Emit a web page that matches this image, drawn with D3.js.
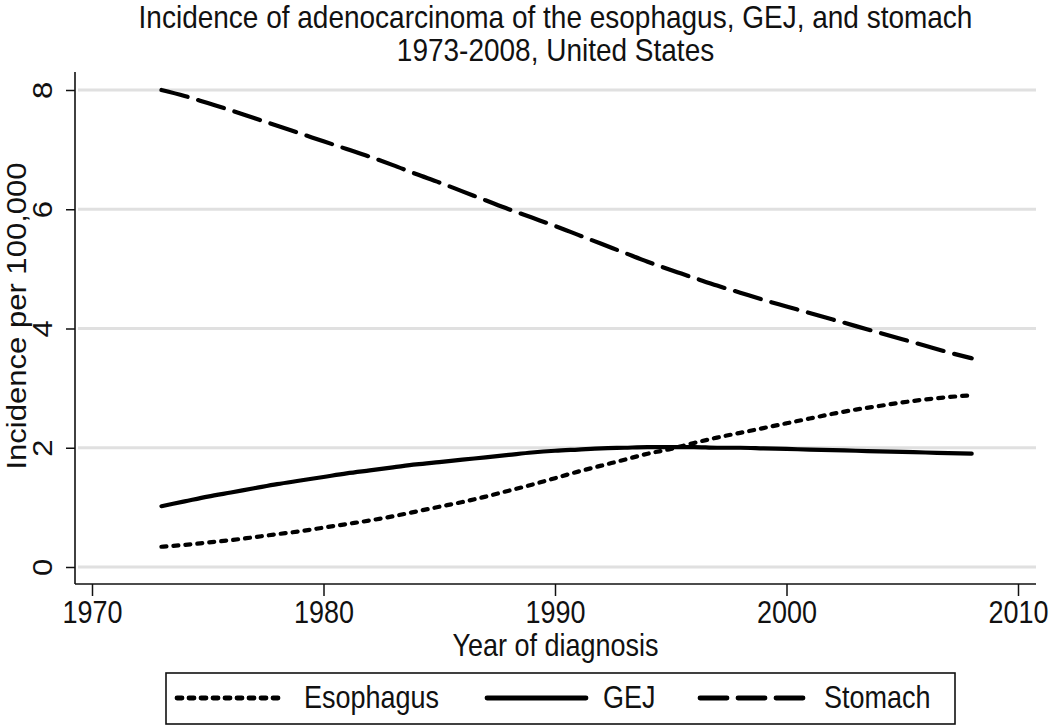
<!DOCTYPE html>
<html>
<head>
<meta charset="utf-8">
<script src="https://cdn.jsdelivr.net/npm/d3@7"></script>
<style>
  html, body { margin: 0; padding: 0; background: #fff; }
  svg { display: block; }
  text { font-family: "Liberation Sans", Arial, Helvetica, sans-serif; fill: #111; }
</style>
</head>
<body>
<svg id="chart" width="1050" height="726"></svg>
<script>
// ---- Data ----
const years = [1973,1974,1975,1976,1977,1978,1979,1980,1981,1982,1983,1984,1985,1986,1987,1988,1989,1990,
               1991,1992,1993,1994,1995,1996,1997,1998,1999,2000,2001,2002,2003,2004,2005,2006,2007,2008];
const esophagus = [0.34,0.37,0.41,0.45,0.50,0.55,0.60,0.66,0.72,0.78,0.85,0.93,1.01,1.09,1.18,1.28,1.38,1.49,
                   1.60,1.70,1.80,1.90,1.98,2.08,2.17,2.25,2.33,2.41,2.49,2.57,2.64,2.70,2.76,2.81,2.85,2.88];
const gej = [1.02,1.10,1.18,1.25,1.32,1.39,1.45,1.51,1.57,1.62,1.67,1.72,1.76,1.80,1.84,1.88,1.92,1.95,
             1.97,1.99,2.00,2.01,2.01,2.01,2.00,2.00,1.99,1.98,1.97,1.96,1.95,1.94,1.93,1.92,1.91,1.90];
const stomach = [8.00,7.90,7.78,7.66,7.53,7.40,7.27,7.14,7.01,6.88,6.74,6.59,6.45,6.30,6.15,6.00,5.86,5.72,
                 5.57,5.42,5.27,5.12,4.98,4.85,4.72,4.60,4.48,4.37,4.26,4.15,4.04,3.93,3.82,3.71,3.60,3.50];
const seriesNames = ["Esophagus", "GEJ", "Stomach"];
const xTicks = [1970, 1980, 1990, 2000, 2010];
const yTicks = [0, 2, 4, 6, 8];
const titleLines = ["Incidence of adenocarcinoma of the esophagus, GEJ, and stomach", "1973-2008, United States"];
const xTitle = "Year of diagnosis";
const yTitle = "Incidence per 100,000";

// ---- Layout ----
const svg = d3.select("#chart");
const plot = { left: 75, right: 1036, top: 72, bottom: 584 };
const SY = 1.15;          // vertical stretch of the text
const FS = 27;            // font size

const x = d3.scaleLinear().domain([1970, 2010]).range([92, 1018]);
const y = d3.scaleLinear().domain([0, 8]).range([567, 90]);

const styles = {
  Esophagus: { dash: "5 7", width: 4.2 },
  GEJ: { dash: null, width: 4.2 },
  Stomach: { dash: "27 11", width: 4.2 }
};
const seriesData = { Esophagus: esophagus, GEJ: gej, Stomach: stomach };

function addText(g, tx, ty, str, anchor, rotate, fs) {
  return g.append("text")
    .attr("transform", `translate(${tx},${ty}) scale(1,${SY})` + (rotate ? " rotate(-90)" : ""))
    .attr("text-anchor", anchor || "middle")
    .style("font-size", (fs || FS) + "px")
    .text(str);
}

// Gridlines
svg.append("g").selectAll("line").data(yTicks).join("line")
  .attr("x1", plot.left + 3).attr("x2", plot.right)
  .attr("y1", d => y(d)).attr("y2", d => y(d))
  .attr("stroke", "#e0e0e0").attr("stroke-width", 3);

// Axes
const yAxis = svg.append("g").attr("transform", `translate(${plot.left},0)`)
  .call(d3.axisLeft(y).tickValues(yTicks).tickSize(9).tickFormat(d3.format("d")));
yAxis.select(".domain").remove();
yAxis.selectAll(".tick line").attr("stroke", "#111").attr("stroke-width", 1.5);
yAxis.selectAll(".tick text")
  .attr("x", null).attr("dy", null)
  .attr("transform", `translate(-23,0) scale(1,${SY}) rotate(-90)`)
  .attr("text-anchor", "middle")
  .style("font-size", FS + "px").attr("fill", "#111");

const xAxis = svg.append("g").attr("transform", `translate(0,${plot.bottom})`)
  .call(d3.axisBottom(x).tickValues(xTicks).tickSize(12).tickFormat(d3.format("d")));
xAxis.select(".domain").remove();
xAxis.selectAll(".tick line").attr("stroke", "#111").attr("stroke-width", 1.5);
xAxis.selectAll(".tick text")
  .attr("y", null).attr("dy", null)
  .attr("transform", `translate(0,39) scale(1,${SY})`)
  .attr("text-anchor", "middle")
  .style("font-size", FS + "px").attr("fill", "#111");
svg.selectAll("g").attr("font-family", null).attr("font-size", null);

// Axis lines
svg.append("line").attr("x1", plot.left).attr("x2", plot.left)
  .attr("y1", plot.top).attr("y2", plot.bottom)
  .attr("stroke", "#111").attr("stroke-width", 1.6);
svg.append("line").attr("x1", plot.left).attr("x2", plot.right)
  .attr("y1", plot.bottom).attr("y2", plot.bottom)
  .attr("stroke", "#111").attr("stroke-width", 1.6);

// Lines
const line = d3.line().x((d, i) => x(years[i])).y(d => y(d)).curve(d3.curveMonotoneX);
seriesNames.forEach(name => {
  const st = styles[name];
  svg.append("path")
    .datum(seriesData[name])
    .attr("d", line)
    .attr("fill", "none")
    .attr("stroke", "#000")
    .attr("stroke-width", st.width)
    .attr("stroke-linecap", "round")
    .attr("stroke-linejoin", "round")
    .attr("stroke-dasharray", st.dash);
});

// Titles
const cx = (plot.left + plot.right) / 2;
addText(svg, cx, 28, titleLines[0], "middle", false, 28);
addText(svg, cx, 61, titleLines[1], "middle", false, 28);
addText(svg, cx, 656, xTitle);
addText(svg, 26, (plot.top + plot.bottom) / 2 - 12, yTitle, "middle", true);

// Legend
const legend = svg.append("g");
legend.append("rect").attr("x", 166).attr("y", 673).attr("width", 789).attr("height", 51)
  .attr("fill", "#fff").attr("stroke", "#111").attr("stroke-width", 1.6);
const legendPos = [ { s: 177, e: 284, t: 304 }, { s: 487, e: 586, t: 603 }, { s: 700, e: 805, t: 824 } ];
const legY = 698;
seriesNames.forEach((name, i) => {
  const p = legendPos[i], st = styles[name];
  legend.append("line").attr("x1", p.s).attr("x2", p.e).attr("y1", legY).attr("y2", legY)
    .attr("stroke", "#000").attr("stroke-width", st.width + 0.6)
    .attr("stroke-linecap", "round").attr("stroke-dasharray", st.dash);
  addText(legend, p.t, legY + 10, name, "start");
});
</script>
</body>
</html>
